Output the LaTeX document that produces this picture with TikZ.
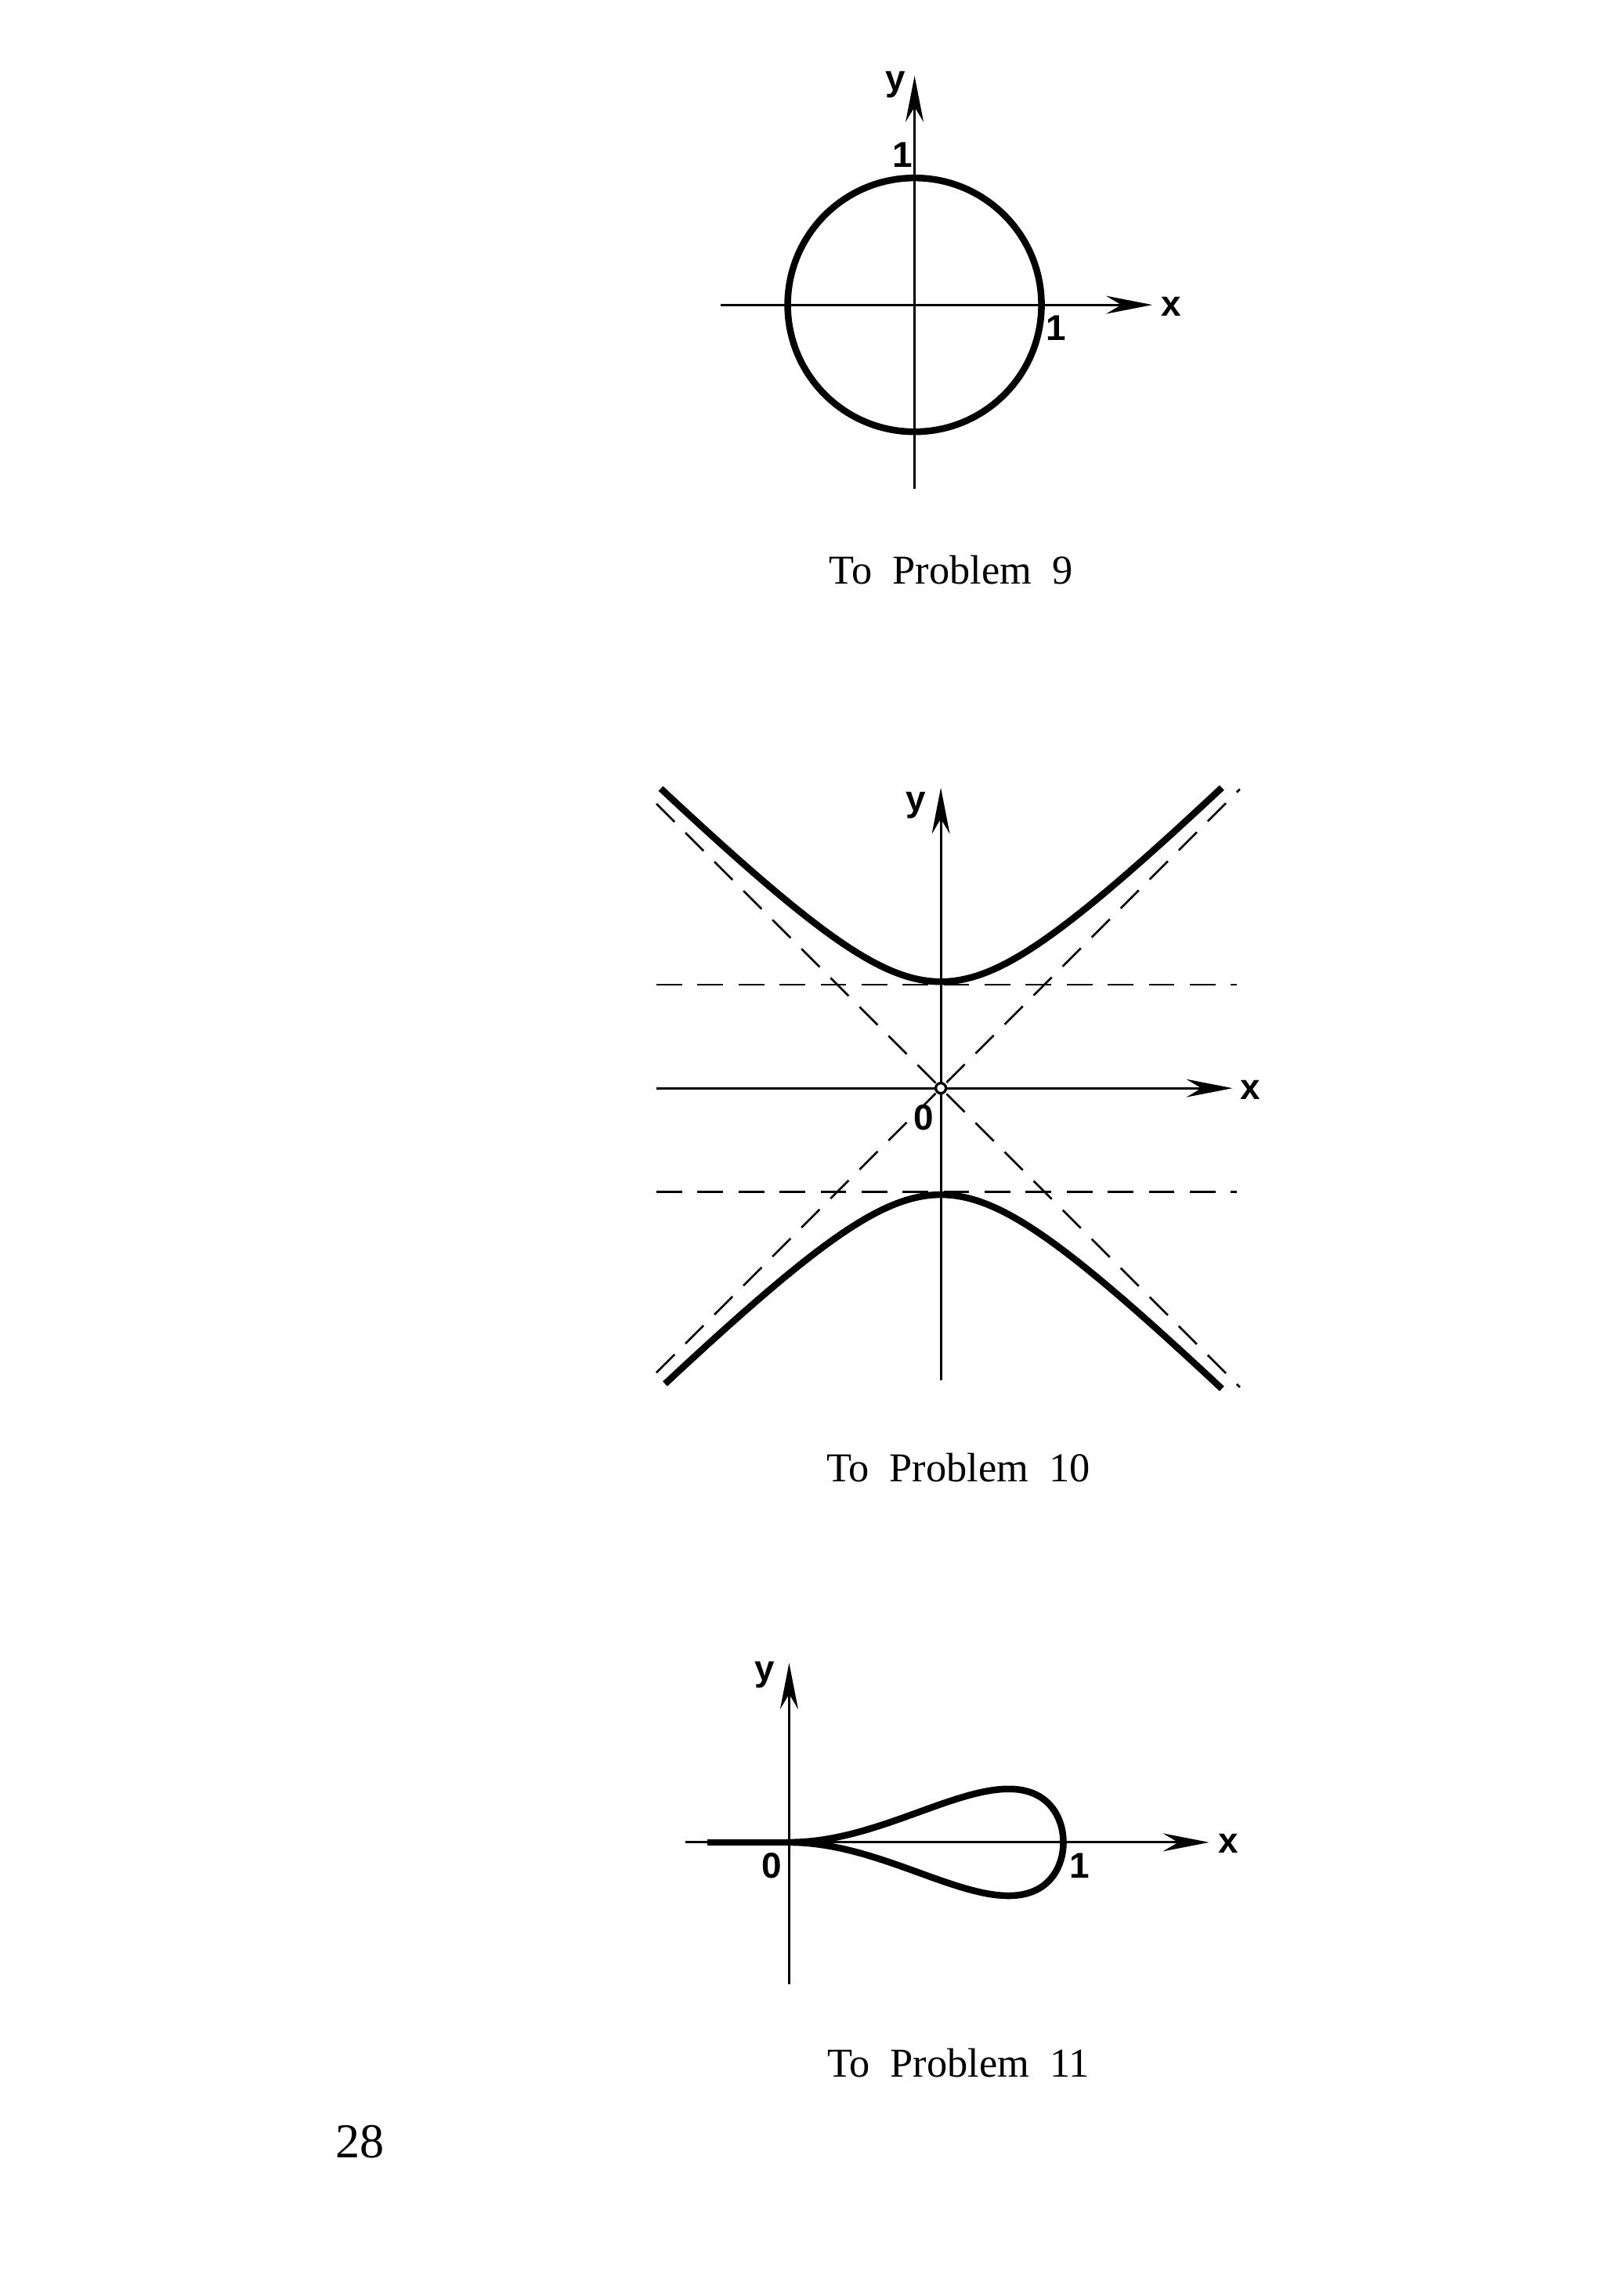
\documentclass[tikz,border=0pt]{standalone}
\usepackage{fontspec}
\setmainfont{Liberation Serif}
\newfontfamily\lab{Liberation Sans}
\usetikzlibrary{arrows.meta}
\newcommand\wsp{\spaceskip=0.5em\relax}
\begin{document}
\begin{tikzpicture}[x=0.01cm,y=-0.01cm,
  ax/.style={line width=0.45pt,-{Stealth[length=9pt,width=3.5pt]}},
  axn/.style={line width=0.45pt},
  crv/.style={line width=1.3pt},
  dsh/.style={line width=0.4pt,dash pattern=on 5pt off 3pt},
  lb/.style={font=\lab\bfseries\fontsize{7}{7}\selectfont},
  captext/.style={font=\fontsize{8}{9}\selectfont}]
\useasboundingbox (0,0) rectangle (1100,1574);
% Problem 9
\coordinate (o9) at (627,209);
\draw[axn] (627,335) -- (627,120);
\draw[ax] (627,120) -- (627,52);
\draw[ax] (494,209) -- (790,209);
\draw[crv] (o9) circle[radius=87];
\node[lb] (y9) at (614,58) {y};
\node[lb] (one9a) at (619,106) {1};
\node[lb] (one9b) at (724,225) {1};
\node[lb] (x9) at (803,210) {x};
\node[captext] (c9) at (652,391) {\wsp To Problem 9};
% Problem 10
\begin{scope}[shift={(645,746)}]
\draw[ax] (0,200) -- (0,-206);
\draw[ax] (-195,0) -- (200,0);
\draw[dsh] (-195,-71) -- (203,-71);
\draw[dsh] (-195,71) -- (203,71);
\draw[dsh] (-195,-195) -- (205,205);
\draw[dsh] (-195,195) -- (205,-205);
\draw[crv,domain=-2.63:2.64,samples=80,smooth,variable=\t] plot ({73*\t},{-73*sqrt(1+\t*\t)});
\draw[crv,domain=-2.59:2.64,samples=80,smooth,variable=\t] plot ({73*\t},{73*sqrt(1+\t*\t)});
\draw[line width=0.5pt,fill=white] (0,0) circle[radius=3.5];
\node[lb] (y10) at (-17,-194) {y};
\node[lb] (o10) at (-12,20) {0};
\node[lb] (x10) at (212,1) {x};
\end{scope}
\node[captext] (c10) at (657,1006) {\wsp To Problem 10};
% Problem 11
\begin{scope}[shift={(541,1263)}]
\draw[axn] (0,97) -- (0,-55);
\draw[ax] (0,-55) -- (0,-123);
\draw[ax] (-71,0) -- (288,0);
\draw[crv] (-56,0) -- (0,0);
\draw[crv,domain=-1:1,samples=120,smooth,variable=\s] plot ({188*(1-\s*\s)},{-188*0.68*(1-\s*\s)*(1-\s*\s)*\s});
\node[lb] (y11) at (-17,-115) {y};
\node[lb] (o11) at (-12,16) {0};
\node[lb] (one11) at (199,16) {1};
\node[lb] (x11) at (301,1) {x};
\end{scope}
\node[captext] (c11) at (657,1414) {\wsp To Problem 11};
\node[font=\fontsize{9.5}{10}\selectfont] (pg) at (247,1468) {28};
\end{tikzpicture}
\end{document}
